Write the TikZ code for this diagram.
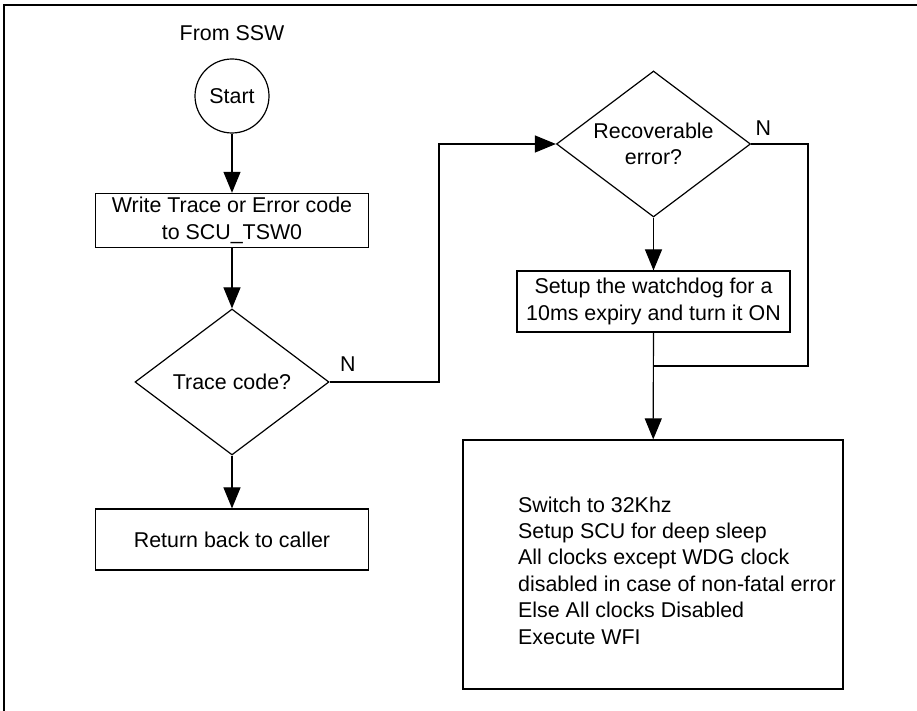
\documentclass[tikz,border=0pt]{standalone}
\usepackage{fontspec}
\setmainfont{Liberation Sans}
\usepackage{tikz}
\usetikzlibrary{positioning, arrows.meta, shapes.geometric}

\begin{document}
\begin{tikzpicture}[
    x=0.5pt, y=-0.5pt,
    font=\fontsize{10.7}{13.2}\selectfont,
    box/.style={draw, line width=0.6pt, minimum width=136.5pt, minimum height=30.5pt, inner sep=2pt, align=center},
    dec/.style={draw, line width=0.6pt, diamond, aspect=1.33, minimum width=97pt, minimum height=73pt, inner sep=0pt, align=center},
    term/.style={draw, line width=0.6pt, circle, minimum size=37pt, inner sep=0pt},
    lbl/.style={inner sep=0pt},
    arr/.style={-{Triangle[length=10.5pt, width=8.5pt]}, line width=0.6pt},
    ln/.style={line width=0.6pt},
  ]
    \useasboundingbox (0,0) rectangle (917,711);
    \draw[ln] (917,5) -- (4,5) -- (4,711);

    % left column
    \node (from) at (232,33) {From SSW};
    \node[term] (start) at (232,96) {Start};
    \node[box, minimum height=26.5pt] (write) at (232,220.5) {Write Trace or Error code\\to SCU\_TSW0};
    \node[dec] (trace) at (232,382) {Trace code?};
    \node[lbl, above right=5pt and 5pt of trace.east] (ntrace) {N};
    \node[box] (ret) at (232,539.5) {Return back to caller};

    % right column
    \node[dec] (rec) at (653.5,144) {Recoverable\\error?};
    \node[lbl, above right=4pt and 2pt of rec.east] (nrec) {N};
    \node[box] (wdog) at (653.5,301.5) {Setup the watchdog for a\\10ms expiry and turn it ON};
    \node[draw, line width=0.6pt, minimum width=190pt, minimum height=124.5pt] (sleep) at (653,564.5) {};
    \node[align=left, inner sep=0pt, xshift=12pt, yshift=-3pt] (sleeptxt) at (sleep.center)
      {Switch to 32Khz\\Setup SCU for deep sleep\\All clocks except WDG clock\\disabled in case of non-fatal error\\Else All clocks Disabled\\Execute WFI};

    % connectors
    \coordinate (jog) at (439,382);
    \coordinate (merge) at (653.5,366);
    \coordinate (side) at (808,366);
    \draw[arr] (start) -- (write);
    \draw[arr] (write) -- (trace);
    \draw[arr] (trace) -- (ret);
    \draw[arr] (trace.east) -- (jog) |- (rec.west);
    \draw[arr] (rec) -- (wdog);
    \draw[ln] (rec.east) -| (side) -- (merge);
    \draw[arr] (wdog) -- (sleep);
  \end{tikzpicture}
\end{document}
